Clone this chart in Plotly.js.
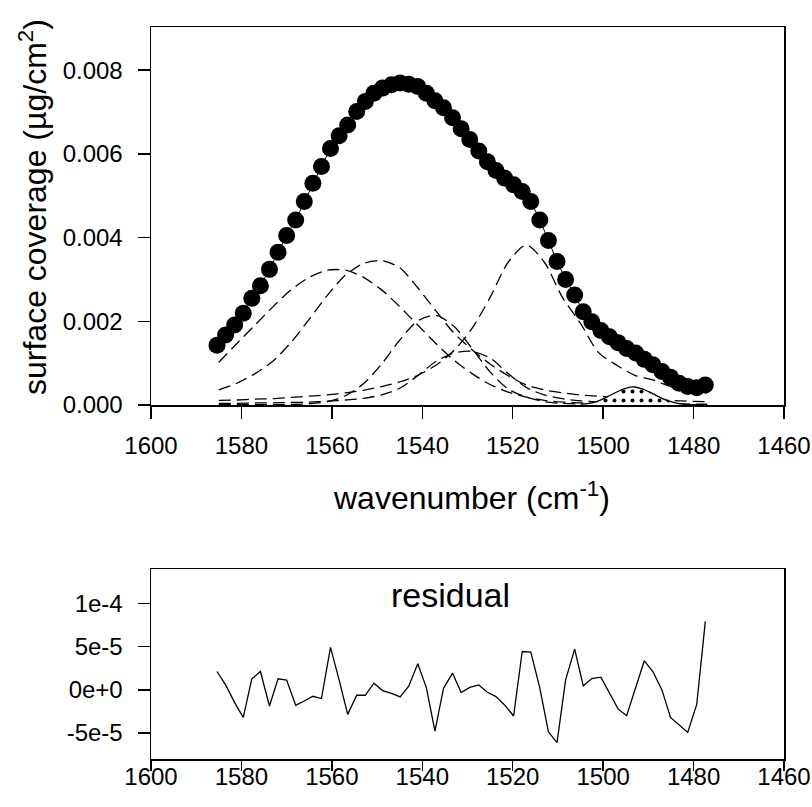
<!DOCTYPE html>
<html><head><meta charset="utf-8">
<script src="https://cdn.plot.ly/plotly-3.0.1.min.js"></script>
<style>html,body{margin:0;padding:0;background:#fff}</style>
</head><body><div id="chart" style="width:812px;height:807px"></div>
<script>
// measured spectrum (x in cm^-1)
const wavenumber = [1585.4,1583.5,1581.5,1579.6,1577.7,1575.8,1573.8,1571.9,1570.0,1568.0,
  1566.1,1564.2,1562.3,1560.3,1558.4,1556.5,1554.5,1552.6,1550.7,1548.8,
  1546.8,1544.9,1543.0,1541.0,1539.1,1537.2,1535.3,1533.3,1531.4,1529.5,
  1527.5,1525.6,1523.7,1521.8,1519.8,1517.9,1516.0,1514.0,1512.1,1510.2,
  1508.3,1506.3,1504.4,1502.5,1500.5,1498.6,1496.7,1494.8,1492.8,1490.9,
  1489.0,1487.0,1485.1,1483.2,1481.3,1479.3,1477.4];
const coverage = [0.00143,0.00167,0.00191,0.00219,0.00255,0.00285,0.00324,0.00365,0.00405,0.00442,
  0.00486,0.00530,0.00570,0.00613,0.00643,0.00669,0.00701,0.00725,0.00745,0.00757,
  0.00765,0.00769,0.00766,0.00761,0.00745,0.00727,0.00710,0.00686,0.00660,0.00634,
  0.00607,0.00581,0.00560,0.00542,0.00526,0.00510,0.00486,0.00442,0.00393,0.00343,
  0.00300,0.00263,0.00223,0.00199,0.00178,0.00163,0.00149,0.00135,0.00124,0.00109,
  0.00096,0.00080,0.00066,0.00052,0.00044,0.00041,0.00048];
const residual = [2.13e-5,5.8e-6,-1.47e-5,-3.18e-5,1.28e-5,2.13e-5,-1.86e-5,1.28e-5,1.13e-5,-1.78e-5,
  -1.28e-5,-7.4e-6,-1.0e-5,4.92e-5,1.16e-5,-2.83e-5,-6.2e-6,-6.2e-6,7.8e-6,-8e-7,
  -3.9e-6,-8.1e-6,4.3e-6,3.02e-5,2.7e-6,-4.77e-5,2.0e-6,1.94e-5,-3.1e-6,2.9e-6,
  5.8e-6,-2.7e-6,-7.8e-6,-1.74e-5,-3.02e-5,4.45e-5,4.38e-5,2.0e-6,-4.85e-5,-6.1e-5,
  1.16e-5,4.73e-5,4.7e-6,1.31e-5,1.47e-5,-3.9e-6,-2.2e-5,-2.98e-5,3.9e-6,3.37e-5,
  2.13e-5,0,-3.18e-5,-4.0e-5,-4.92e-5,-1.67e-5,7.94e-5];

// fitted component bands
const compX = [1585,1581,1577,1573,1569,1565,1561,1557,1553,1549,1545,1541,1537,1533,
  1529,1525,1521,1517,1513,1509,1505,1501,1497,1493,1489,1485,1481,1477];
const bandA = [0.00102,0.00147,0.00191,0.00235,0.00275,0.00305,0.00322,0.00322,0.00305,0.00275,
  0.00235,0.00191,0.00147,0.00107,0.00075,0.00049,0.00031,0.00019,0.00011,0.00007,
  0.00005,0.00003,0.00002,0.00002,0.00001,0.00001,0.00001,0.00001];
const bandB = [0.00036,0.00052,0.00075,0.00105,0.00150,0.00205,0.00262,0.00310,0.00338,0.00345,
  0.00328,0.00280,0.00225,0.00172,0.00132,0.00098,0.00070,0.00048,0.00036,0.00029,
  0.00024,0.00021,0.00018,0.00016,0.00013,0.00011,0.00009,0.00008];
const bandC = [0.00001,0.00001,0.00001,0.00001,0.00001,0.00003,0.00008,0.00022,0.00051,0.00098,
  0.00155,0.00201,0.00214,0.00188,0.00135,0.00079,0.00038,0.00019,0.00008,0.00004,
  0.00002,0.00001,0.00001,0.00001,0.00001,0.00001,0.00001,0.00001];
const bandD = [0.00004,0.00004,0.00005,0.00005,0.00006,0.00007,0.00009,0.00012,0.00016,0.00024,
  0.00040,0.00070,0.00104,0.00124,0.00128,0.00112,0.00075,0.00042,0.00024,0.00015,
  0.00010,0.00007,0.00005,0.00004,0.00003,0.00003,0.00002,0.00002];
const bandE = [0.00011,0.00012,0.00014,0.00015,0.00018,0.00021,0.00024,0.00029,0.00035,0.00044,
  0.00055,0.00071,0.00095,0.00130,0.00183,0.00257,0.00341,0.00382,0.00341,0.00257,
  0.00195,0.00125,0.00095,0.00071,0.00060,0.00044,0.00035,0.00029];
const bandFX = [1505,1503,1501,1499,1497,1495,1493,1491,1489,1487,1485,1483,1481];
const bandF = [0.00002,0.00004,0.00010,0.00020,0.00031,0.00040,0.00043,0.00037,0.00027,0.00016,0.00008,0.00003,0.00001];

const xTicks = [1600,1580,1560,1540,1520,1500,1480,1460];
const yTicks = [0,0.002,0.004,0.006,0.008];
const resTicks = [-5e-5,0,5e-5,1e-4];
const resTickText = ['-5e-5','0e+0','5e-5','1e-4'];

const FONT = 'Liberation Sans, Arial, Helvetica, sans-serif';
const W = 812, H = 807;
const dashStyle = {color:'black', width:1.3, dash:'12px,6px', shape:'spline', smoothing:0.8};

const traces = [];
[bandA, bandB, bandC, bandD, bandE].forEach(b => {
  traces.push({x: compX, y: b, type:'scatter', mode:'lines', line: dashStyle,
    xaxis:'x', yaxis:'y', hoverinfo:'skip', showlegend:false});
});
traces.push({x: bandFX, y: bandF, type:'scatter', mode:'lines', fill:'tozeroy',
  fillcolor:'rgba(0,0,0,0)',
  fillpattern:{shape:'.', size:9, solidity:0.15, fgcolor:'black', bgcolor:'white'},
  line:{color:'black', width:1.3, shape:'spline'}, xaxis:'x', yaxis:'y', showlegend:false});
traces.push({x: wavenumber, y: coverage, type:'scatter', mode:'lines',
  line:{color:'black', width:1}, xaxis:'x', yaxis:'y', showlegend:false});
traces.push({x: wavenumber, y: coverage, type:'scatter', mode:'markers',
  marker:{color:'black', size:17, line:{width:0}}, xaxis:'x', yaxis:'y', showlegend:false});
traces.push({x: wavenumber, y: residual, type:'scatter', mode:'lines',
  line:{color:'black', width:1.3}, xaxis:'x2', yaxis:'y2', showlegend:false});

const axBase = {showgrid:false, zeroline:false, showline:true, linecolor:'black', linewidth:1.5,
  mirror:true, ticks:'outside', ticklen:12, tickwidth:1.5, tickcolor:'black',
  tickfont:{family:FONT, size:24, color:'black'}};

const layout = {
  width:W, height:H, margin:{l:0, r:0, t:0, b:0},
  paper_bgcolor:'white', plot_bgcolor:'white', showlegend:false,
  xaxis: Object.assign({}, axBase, {domain:[151/W, 784/W], range:[1600,1460], autorange:false,
    tickvals:xTicks, anchor:'y', ticklabelstandoff:7}),
  yaxis: Object.assign({}, axBase, {domain:[1-405/H, 1-27/H], range:[0,0.00903], autorange:false,
    tickvals:yTicks, tickformat:'.3f', anchor:'x', ticklabelstandoff:10}),
  xaxis2: Object.assign({}, axBase, {domain:[151/W, 784/W], range:[1600,1460], autorange:false,
    tickvals:xTicks, anchor:'y2', ticklen:10, ticklabelstandoff:-14}),
  yaxis2: Object.assign({}, axBase, {domain:[1-759/H, 1-569/H], range:[-8e-5,1.4e-4], autorange:false,
    tickvals:resTicks, ticktext:resTickText, anchor:'x2', ticklabelstandoff:10}),
  annotations:[
    {text:'surface coverage (µg/cm<sup>2</sup>)', xref:'paper', yref:'paper', x:33/W, y:1-207/H,
      xanchor:'center', yanchor:'middle', textangle:-90, showarrow:false,
      font:{family:FONT, size:32, color:'black'}},
    {text:'wavenumber (cm<sup>-1</sup>)', xref:'paper', yref:'paper', x:471/W, y:1-496/H,
      xanchor:'center', yanchor:'middle', showarrow:false,
      font:{family:FONT, size:32, color:'black'}},
    {text:'residual', xref:'paper', yref:'paper', x:451/W, y:1-595/H,
      xanchor:'center', yanchor:'middle', showarrow:false,
      font:{family:FONT, size:34, color:'black'}}
  ]
};
Plotly.newPlot('chart', traces, layout, {displayModeBar:false, staticPlot:true});
</script></body></html>
